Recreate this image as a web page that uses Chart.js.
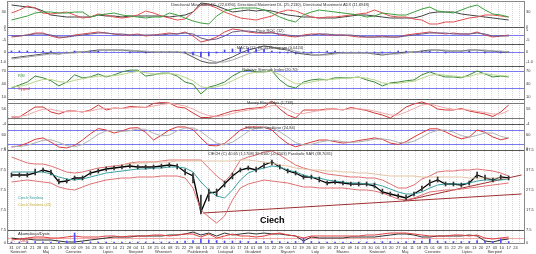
<!DOCTYPE html>
<html>
<head>
<meta charset="utf-8">
<script src="https://cdn.jsdelivr.net/npm/chart.js"></script>
<style>
  html, body { margin: 0; padding: 0; background: #fff; }
  #wrap { position: relative; width: 536px; height: 254px; }
</style>
</head>
<body>
<div id="wrap"><canvas id="chart" width="536" height="254"></canvas></div>
<script>
// Ciech - analiza techniczna (notowania co 8 dni, oś w dniach od startu)
const startDate = new Date(2008, 2, 31)
const monthNames = ["Styczeń", "Luty", "Marzec", "Kwiecień", "Maj", "Czerwiec", "Lipiec", "Sierpień", "Wrzesień", "Październik", "Listopad", "Grudzień"]

const sessionDays = [0, 8, 16, 24, 32, 40, 48, 56, 64, 72, 80, 88, 96, 104, 112, 120, 128, 136, 144, 152, 160, 168, 176, 184, 192, 200, 208, 216, 224, 232, 240, 248, 256, 264, 272, 280, 288, 296, 304, 312, 320, 328, 336, 344, 352, 360, 368, 376, 384, 392, 400, 408, 416, 424, 432, 440, 448, 456, 464, 472, 480, 488, 496, 504]

// Directional Movement
const dmiPlus = [14, 18, 22, 28, 30, 30, 28, 28, 30, 30, 20, 24, 26, 28, 24, 22, 20, 18, 20, 20, 28, 24, 18, 12, 8, 6, 22, 32, 36, 38, 38, 38, 34, 28, 20, 14, 10, 24, 30, 34, 32, 30, 28, 26, 24, 20, 22, 28, 26, 24, 24, 30, 36, 40, 32, 30, 28, 34, 40, 44, 34, 26, 24, 20]
const dmiMinus = [28, 34, 42, 38, 28, 26, 28, 30, 24, 18, 20, 26, 24, 20, 18, 20, 24, 32, 28, 22, 18, 14, 16, 30, 44, 44, 38, 30, 24, 18, 16, 14, 18, 22, 30, 34, 32, 26, 20, 18, 20, 20, 22, 24, 26, 28, 34, 28, 22, 20, 20, 16, 14, 6, 6, 10, 10, 14, 18, 20, 24, 24, 22, 20]
const dmiAdx = [44, 42, 40, 38, 32, 24, 22, 20, 20, 20, 20, 24, 22, 22, 20, 22, 22, 22, 22, 22, 20, 22, 24, 30, 48, 46, 42, 36, 30, 32, 34, 32, 34, 32, 28, 24, 22, 20, 20, 18, 18, 18, 20, 22, 24, 24, 22, 20, 18, 18, 18, 18, 22, 28, 30, 30, 30, 26, 24, 22, 20, 18, 16, 14]

// Price ROC
const rocValues = [-2, -1, 0, 2, 2, -1, -3, -2, 0, 1, 2, 3, 2, 1, 0, 0, 1, -1, 0, 1, 2, 1, 3, -1, -7, -5, -2, 3, 6, 5, 3, 2, 2, 3, 0, -1, -2, 0, 1, 1, 0, 0, 0, -1, -2, -2, -2, -1, -2, -2, 0, 1, 2, 3, 2, 1, 2, 1, 1, 3, 0, -2, -1, 0]
const rocSignal = [-1, -1, 0, 1, 1, 0, -2, -2, -1, 0, 1, 2, 2, 1, 1, 0, 0, 0, 0, 0, 1, 1, 2, 1, -3, -5, -4, -1, 3, 4, 4, 3, 2, 2, 1, 0, -1, -1, 0, 1, 1, 0, 0, 0, -1, -2, -2, -2, -2, -2, -1, 0, 1, 2, 2, 2, 1, 1, 1, 2, 1, -1, -1, -1]

// MACD
const macdLine = [-0.6, -0.5, -0.4, -0.3, -0.2, -0.1, -0.2, -0.1, 0, 0, 0.1, 0.2, 0.2, 0.2, 0.2, 0.1, 0.1, 0, 0, 0, 0, 0, -0.1, -0.5, -0.9, -1.1, -1.1, -0.8, -0.5, -0.1, 0.2, 0.4, 0.6, 0.5, 0.3, 0.2, -0.1, -0.2, -0.3, -0.3, -0.2, -0.1, -0.1, -0.1, -0.1, -0.1, -0.2, -0.3, -0.2, -0.1, 0, 0, 0.1, 0.2, 0.2, 0.1, 0.1, 0.1, 0.2, 0.2, 0.1, 0.1, 0, 0]
const macdSignal = [-0.7, -0.6, -0.5, -0.4, -0.3, -0.2, -0.2, -0.1, -0.1, 0, 0, 0.1, 0.2, 0.2, 0.2, 0.2, 0.1, 0.1, 0, 0, 0, 0, 0, -0.2, -0.5, -0.8, -1, -1, -0.8, -0.5, -0.2, 0.1, 0.3, 0.4, 0.4, 0.3, 0.1, -0.1, -0.2, -0.3, -0.3, -0.2, -0.1, -0.1, -0.1, -0.1, -0.1, -0.2, -0.2, -0.2, -0.1, 0, 0, 0.1, 0.2, 0.2, 0.1, 0.1, 0.1, 0.2, 0.2, 0.1, 0.1, 0]
const macdHist = [0.1, 0.1, 0.1, 0.1, 0.1, 0.1, 0, 0, 0.1, 0, 0.1, 0.1, 0, 0, 0, -0.1, 0, -0.1, 0, 0, 0, 0, -0.1, -0.3, -0.5, -0.4, -0.1, 0.2, 0.3, 0.4, 0.4, 0.3, 0.3, 0.1, -0.1, -0.1, -0.2, -0.1, -0.1, 0, 0.1, 0.1, 0, 0, 0, 0, -0.1, -0.1, 0, 0.1, 0.1, 0, 0.1, 0.1, 0, -0.1, 0, 0, 0.1, 0, -0.1, 0, -0.1, 0]

// RSI
const rsiValues = [30, 37, 44, 58, 54, 47, 35, 44, 61, 54, 56, 63, 56, 61, 68, 72, 72, 58, 61, 65, 65, 58, 44, 39, 16, 32, 37, 44, 58, 68, 72, 68, 68, 70, 49, 35, 30, 44, 49, 51, 49, 54, 54, 54, 56, 49, 44, 35, 42, 44, 47, 49, 61, 68, 61, 56, 56, 54, 61, 70, 63, 56, 58, 56]
const rsiSignal = [32, 34, 38, 45, 50, 50, 45, 43, 48, 52, 55, 58, 58, 59, 62, 66, 69, 66, 63, 63, 64, 62, 55, 47, 33, 30, 33, 38, 47, 56, 64, 67, 68, 69, 62, 50, 40, 40, 44, 48, 50, 51, 53, 54, 55, 53, 49, 42, 40, 41, 44, 46, 53, 60, 62, 60, 58, 56, 57, 63, 64, 61, 59, 58]

// Money Flow Index
const mfiValues = [24, 24, 44, 64, 64, 44, 36, 48, 48, 44, 52, 72, 52, 60, 58, 66, 64, 62, 78, 82, 80, 64, 60, 40, 22, 22, 28, 38, 48, 52, 58, 60, 64, 88, 56, 32, 20, 52, 52, 52, 56, 56, 52, 62, 56, 50, 40, 32, 20, 40, 64, 76, 84, 74, 56, 52, 52, 58, 48, 42, 36, 26, 44, 72]
const mfiSignal = [26, 26, 32, 45, 55, 55, 48, 45, 46, 46, 48, 56, 58, 58, 58, 61, 63, 63, 68, 74, 78, 74, 68, 56, 40, 30, 26, 30, 38, 46, 52, 56, 60, 70, 68, 54, 38, 38, 44, 50, 53, 55, 54, 56, 57, 54, 48, 40, 32, 32, 44, 58, 72, 76, 68, 60, 55, 54, 52, 47, 42, 36, 36, 50]

// Stochastic
const stochK = [7, 12, 24, 40, 46, 28, 7, 3, 14, 37, 64, 86, 80, 67, 76, 88, 90, 70, 37, 58, 80, 93, 93, 82, 46, 14, 12, 22, 50, 80, 93, 93, 92, 80, 48, 22, 8, 18, 28, 37, 37, 30, 24, 28, 35, 40, 46, 40, 24, 18, 30, 50, 68, 85, 85, 72, 55, 42, 50, 80, 70, 50, 38, 46]
const stochD = [10, 9, 14, 25, 36, 38, 27, 13, 8, 18, 38, 62, 76, 78, 74, 77, 84, 83, 66, 55, 58, 77, 88, 89, 74, 47, 24, 16, 28, 50, 74, 88, 92, 88, 72, 50, 26, 16, 18, 28, 34, 35, 30, 27, 29, 34, 40, 42, 37, 27, 24, 32, 49, 68, 79, 80, 71, 56, 49, 57, 67, 67, 53, 45]

// Kurs
const priceClose = [35, 35, 35, 36, 37.5, 36.5, 31.5, 32, 33.5, 33.5, 36, 37, 38, 38.5, 39, 39.5, 39, 39, 39, 39.5, 40, 39.5, 36.5, 34.5, 16.5, 26, 26.5, 30.5, 34.5, 37.5, 38.5, 37.5, 40, 41.5, 39, 37, 36, 34, 34, 32.5, 31, 31.5, 31, 30.5, 30.5, 30.5, 29.5, 26.5, 25.5, 24.5, 23.5, 25.5, 28, 31, 32.5, 30.5, 30.5, 30, 31, 35, 33.5, 32.5, 34, 33.5]
const priceHigh = [36, 36, 36, 38, 38.5, 37.5, 33, 33, 34.5, 34.5, 37, 38, 39, 39.5, 40, 40.5, 40, 40, 40, 40.5, 41, 40.5, 38, 36, 25, 28, 28, 32, 36, 38.5, 39.5, 39, 41, 42.5, 40, 38, 37, 35, 35, 34, 32, 32.5, 32, 31.5, 31.5, 31.5, 31, 28, 26.5, 25.5, 25, 26.5, 29.5, 32.5, 34, 31.5, 31.5, 31, 32, 36.5, 35, 33.5, 35, 34.5]
const priceLow = [34, 34, 34, 35, 36.5, 35, 30.5, 31, 32.5, 32.5, 35, 36, 37, 37.5, 38, 38.5, 38, 38, 38, 38.5, 39, 38, 35, 31, 15.5, 22, 24.5, 29, 33, 36.5, 37.5, 36.5, 38.5, 40, 38, 36, 35, 33, 33, 31.5, 30, 30.5, 30, 29.5, 29.5, 29.5, 28.5, 25.5, 24.5, 23.5, 22.5, 24.5, 27, 29.5, 31.5, 29.5, 29.5, 29, 30, 33.5, 32.5, 31.5, 33, 32.5]
const bandUpper = [44, 42.5, 41, 40.5, 40.5, 39.5, 38, 36.5, 36, 36.5, 37.5, 38.5, 39, 39.5, 40, 41, 41.5, 41.5, 41.5, 42, 42.5, 42.5, 42.5, 42.5, 42.5, 38.5, 34.5, 31.5, 36, 42.5, 44, 45, 46.5, 47, 45, 42.5, 40, 38.5, 37.5, 36.5, 35.5, 35, 34.5, 34, 34, 33.5, 33.5, 32.5, 30.5, 28.5, 28.5, 30, 33, 34.5, 36.5, 37, 37, 37.5, 37.5, 38, 37.5, 37, 36, 34.5]
const bandLower = [31.5, 32, 32.5, 32, 31.5, 31, 29, 28, 27.5, 29, 30.5, 31.5, 32.5, 33, 33.5, 33.5, 34, 34, 34, 34.5, 34.5, 34.5, 33.5, 28.5, 17.5, 14, 11, 14.5, 22.5, 28.5, 30.5, 31.5, 32.5, 32, 31.5, 31, 30, 29, 29, 28.5, 28.5, 28.5, 28.5, 28, 27.5, 27.5, 27, 26, 24.5, 23, 22.5, 23.5, 25, 26.5, 27, 27.5, 27.5, 28, 28.5, 29, 29.5, 30, 30.5, 31]
const maShort = [36.5, 36.5, 36.5, 36.5, 36.5, 35.5, 34, 33, 32.5, 33, 34, 35, 36, 36.5, 37, 37.5, 38, 38, 38.5, 38.5, 39, 39, 38.5, 36.5, 31.5, 27.5, 24.5, 23.5, 27.5, 32.5, 36, 37.5, 38.5, 39.5, 39, 37.5, 36.5, 35, 34, 33.5, 32.5, 32, 31.5, 31, 31, 30.5, 30.5, 29.5, 28, 26.5, 25.5, 25.5, 26.5, 28.5, 30, 30.5, 30.5, 30.5, 31, 32, 32.5, 32.5, 32.5, 33]
const maLong = [null, null, null, null, null, null, null, null, null, null, null, null, null, null, 40, 40.5, 41, 41, 41.5, 41.5, 41.5, 42, 42, 42, 42, 42, 42, 42, 42, 42.5, 42.5, 42, 41.5, 41, 40, 39.5, 38.5, 38, 37.5, 37.5, 37, 37, 36.5, 36.5, 36, 36, 35.5, 35, 34.5, 34.5, 34.5, 34.5, 34, 34, 34, 34, 34, 34, 33.5, 33.5, 33.5, 33.5, 33.5, 33]
const trendLowDays = [194, 517]
const trendLowValues = [16, 25.5]
const trendUpDays = [397, 517]
const trendUpValues = [22, 35]

// Akumulacja / wolumen
const accDist = [5, 4, 4, 3, 3, 3, 2, 1, 1, 2, 3, 4, 5, 6, 6, 6, 7, 7, 7, 7, 8, 8, 9, 11, 8, 10, 7, 10, 8, 9, 10, 9, 10, 9, 9, 8, 7, 2, 6, 5, 5, 5, 5, 6, 6, 6, 6, 7, 8, 9, 9, 8, 6, 6, 7, 7, 7, 7, 8, 7, 2, 1, 3, 4]
const obvLine = [3, 4, 5, 6, 6, 5, 5, 6, 7, 6, 6, 6, 7, 7, 6, 7, 7, 7, 8, 8, 7, 8, 9, 9, 6, 9, 5, 7, 9, 7, 7, 6, 7, 9, 10, 8, 7, 5, 7, 7, 7, 7, 7, 7, 7, 8, 8, 9, 10, 10, 10, 9, 8, 7, 7, 7, 8, 8, 7, 8, 5, 4, 5, 6]
const volumeBars = [1, 1, 1, 1.5, 1, 1, 1, 2, 10, 1, 1, 1, 1, 1, 1, 1, 1, 1, 1, 1, 1, 1.5, 2, 2.5, 4, 3, 2.5, 2, 2, 2, 1.5, 1.5, 1.5, 2, 1.5, 1, 1.5, 5, 1.5, 1, 1, 1, 1, 1, 1, 1, 1, 1.5, 1.5, 1, 1.5, 2, 2, 4, 2, 1.5, 1.5, 1.5, 1.5, 2.5, 2, 1.5, 4, 1.5]

const BLUE = "#7a7af0"
const guideLines = [
  { axis: "yRoc", value: 0, color: BLUE },
  { axis: "yMacd", value: 0, color: BLUE },
  { axis: "yRsi", value: 70, color: BLUE },
  { axis: "yRsi", value: 30, color: BLUE },
  { axis: "yMfi", value: 80, color: "#777" },
  { axis: "yMfi", value: 20, color: "#777" },
  { axis: "yStoch", value: 80, color: BLUE },
  { axis: "yStoch", value: 20, color: BLUE },
  { axis: "yVol", value: 5.5, color: "#f4a8a8" },
]

const panelTitles = {
  yDmi: "Directional Movement DI+ (22,6390), Directional Movement DI- (25,2130), Directional Movement ADX (11,6948)",
  yRoc: "Price ROC (12)",
  yMacd: "MACD (12, 26, 9) Histogram (0,0424)",
  yRsi: "Relative Strength Index (20,70)",
  yMfi: "Money Flow Index (1,738)",
  yStoch: "Stochastic Oscillator (24,84)",
  yPrice: "CIECH (C) 40,65 (1,1708) 39,6100 (-0,6503) Parabolic SAR (38,7031)",
  yVol: "",
}

const FONT = "'Liberation Sans', Arial, sans-serif"
Chart.defaults.font.family = FONT

const weekTicks = []
for (let d = 0; d <= 511; d += 7) weekTicks.push(d)

function formatTick(value) {
  const dt = new Date(startDate.getTime() + value * 86400000)
  const dd = String(dt.getDate()).padStart(2, "0")
  if (dt.getDate() <= 7) return [dd, monthNames[dt.getMonth()]]
  return dd
}

function pts(values) {
  return values.map((v, i) => ({ x: sessionDays[i], y: v }))
}

function line(values, axis, color, width) {
  return {
    type: "line", data: pts(values), yAxisID: axis,
    borderColor: color, borderWidth: width || 1,
    pointRadius: 0, tension: 0, fill: false,
  }
}

function segment(days, values, axis, color) {
  return {
    type: "line", data: days.map((d, i) => ({ x: d, y: values[i] })), yAxisID: axis,
    borderColor: color, borderWidth: 1, pointRadius: 0, fill: false,
  }
}

function yAxis(min, max, weight, step) {
  return {
    type: "linear", position: "right", stack: "panels", stackWeight: weight,
    min, max,
    grid: { display: false, drawTicks: false },
    border: { display: false },
    ticks: { stepSize: step, includeBounds: false, font: { size: 4 }, color: "#333", padding: 1 },
    afterFit(s) { s.width = 11; s.paddingTop = 0; s.paddingBottom = 0 },
  }
}

const panelDecor = {
  id: "panelDecor",
  beforeDatasetsDraw(chart) {
    const { ctx, chartArea: a } = chart
    ctx.save()
    ctx.lineWidth = 1
    guideLines.forEach((g) => {
      const y = Math.round(chart.scales[g.axis].getPixelForValue(g.value)) + 0.5
      ctx.strokeStyle = g.color
      ctx.beginPath()
      ctx.moveTo(a.left, y)
      ctx.lineTo(a.right, y)
      ctx.stroke()
    })
    ctx.restore()
  },
  afterDatasetsDraw(chart) {
    const { ctx, chartArea: a } = chart
    ctx.save()
    // separatory paneli i ramka
    ctx.strokeStyle = "#555"
    ctx.lineWidth = 1
    Object.keys(panelTitles).forEach((id) => {
      const s = chart.scales[id]
      const y = Math.round(s.top) + 0.5
      ctx.beginPath()
      ctx.moveTo(a.left, y)
      ctx.lineTo(a.right, y)
      ctx.stroke()
    })
    ctx.strokeStyle = "#888"
    ctx.strokeRect(a.left + 0.5, a.top + 0.5, a.right - a.left - 1, a.bottom - a.top - 1)

    // tytuły paneli
    ctx.font = "4px " + FONT
    ctx.fillStyle = "#333"
    ctx.textAlign = "center"
    ctx.textBaseline = "top"
    Object.keys(panelTitles).forEach((id) => {
      const s = chart.scales[id]
      ctx.fillText(panelTitles[id], 270, s.top + 1.5)
    })

    // etykiety osi po lewej stronie
    ctx.textAlign = "right"
    ctx.textBaseline = "middle"
    Object.keys(panelTitles).forEach((id) => {
      const s = chart.scales[id]
      s.ticks.forEach((t) => {
        ctx.fillText(String(t.label), 6, s.getPixelForValue(t.value))
      })
    })

    // opisy serii
    ctx.textAlign = "left"
    ctx.fillStyle = "#3a8a3a"
    ctx.fillText("RSI", 18, 76)
    ctx.fillStyle = "#d03838"
    ctx.fillText("Sygnał", 18, 89)
    ctx.fillStyle = "#3aa0a0"
    ctx.fillText("Ciech Średnia", 18, 198)
    ctx.fillStyle = "#c8b040"
    ctx.fillText("Ciech Średnia (45)", 18, 205)
    ctx.fillStyle = "#222"
    ctx.fillText("Akumulacja/Dystr.", 18, 234)
    ctx.fillStyle = "#d03838"
    ctx.fillText("OBV", 20, 241)

    ctx.fillStyle = "#000"
    ctx.font = "bold 9px " + FONT
    ctx.textBaseline = "alphabetic"
    ctx.fillText("Ciech", 260, 223)
    ctx.restore()
  },
}

const datasets = [
  // świece (zakres dzienny)
  {
    type: "bar", yAxisID: "yPrice", grouped: false, barThickness: 1,
    data: sessionDays.map((d, i) => ({ x: d, y: [priceLow[i], priceHigh[i]] })),
    backgroundColor: "#333",
  },
  {
    type: "bar", yAxisID: "yMacd", grouped: false, barThickness: 1,
    data: pts(macdHist), backgroundColor: "#4545e0",
  },
  {
    type: "bar", yAxisID: "yVol", grouped: false, barThickness: 1, base: -1,
    data: pts(volumeBars), backgroundColor: "#5050ff",
  },
  line(dmiPlus, "yDmi", "#3e9e3e"),
  line(dmiMinus, "yDmi", "#e05050"),
  line(dmiAdx, "yDmi", "#404040"),
  line(rocSignal, "yRoc", "#6a5a8a"),
  line(rocValues, "yRoc", "#d84848"),
  line(macdSignal, "yMacd", "#a8a8a8"),
  line(macdLine, "yMacd", "#505050"),
  line(rsiSignal, "yRsi", "#b8d488"),
  line(rsiValues, "yRsi", "#3a8a3a"),
  line(mfiSignal, "yMfi", "#f0a8a8"),
  line(mfiValues, "yMfi", "#d03838"),
  line(stochD, "yStoch", "#b0b0b0"),
  line(stochK, "yStoch", "#d83838"),
  line(maLong, "yPrice", "#e2c4a4"),
  line(bandUpper, "yPrice", "#e07070"),
  line(bandLower, "yPrice", "#e07070"),
  line(maShort, "yPrice", "#3aa0a0"),
  line(priceClose, "yPrice", "#000", 1.3),
  segment(trendLowDays, trendLowValues, "yPrice", "#a03030"),
  segment(trendUpDays, trendUpValues, "yPrice", "#a03030"),
  line(obvLine, "yVol", "#e04040"),
  line(accDist, "yVol", "#303030"),
]

new Chart(document.getElementById("chart"), {
  type: "line",
  data: { datasets },
  options: {
    responsive: false,
    animation: false,
    events: [],
    layout: { padding: { left: 7, top: 1, right: 0, bottom: 0 } },
    plugins: { legend: { display: false }, tooltip: { enabled: false } },
    scales: {
      x: {
        type: "linear", position: "bottom", min: -1, max: 517,
        grid: { color: "#d4d4d4", lineWidth: 1, drawTicks: false },
        border: { display: false, dash: [1, 1] },
        ticks: {
          autoSkip: false, maxRotation: 0, minRotation: 0, padding: 1,
          font: { size: 4 }, color: "#333", callback: formatTick,
        },
        afterBuildTicks(scale) { scale.ticks = weekTicks.map((v) => ({ value: v })) },
        afterFit(scale) { scale.height = 10; scale.paddingLeft = 0; scale.paddingRight = 0 },
      },
      yDmi: yAxis(0, 52, 26, 10),
      yRoc: yAxis(-9, 8, 17, 5),
      yMacd: yAxis(-1.4, 0.8, 22, 0.5),
      yRsi: yAxis(4.1, 81.8, 33, 10),
      yMfi: yAxis(-4, 96, 25, 20),
      yStoch: yAxis(-5.7, 105.7, 26, 20),
      yPrice: yAxis(7.5, 47.5, 80, 5),
      yVol: yAxis(-1, 13, 14, 5),
    },
  },
  plugins: [panelDecor],
})
</script>
</body>
</html>
